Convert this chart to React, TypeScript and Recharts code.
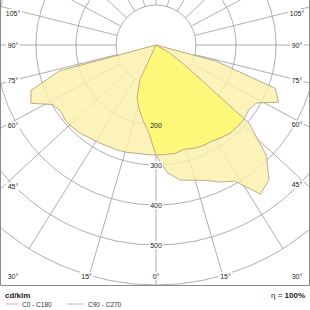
import React from "react";
import { RadarChart, Radar, PolarGrid, PolarAngleAxis, PolarRadiusAxis } from "recharts";

// gamma of one half plane, 5 deg steps (0 = straight down)
const gamma = [0, 5, 10, 15, 20, 25, 30, 35, 40, 45, 50, 55, 60, 65, 70, 75, 80, 85, 90,
  95, 100, 105, 110, 115, 120, 125, 130, 135, 140, 145, 150, 155, 160, 165, 170, 175, 180];

// cd/klm
const c0 = [275, 320, 343, 350, 360, 378, 393, 455, 440, 390, 303, 88, 38, 0, 0, 0, 0, 0, 0,
  0, 0, 0, 0, 0, 0, 0, 0, 0, 0, 0, 0, 0, 0, 0, 0, 0, 0];
const c180 = [275, 218, 190, 165, 138, 95, 0, 0, 0, 0, 0, 0, 0, 0, 0, 0, 0, 0, 0,
  0, 0, 0, 0, 0, 0, 0, 0, 0, 0, 0, 0, 0, 0, 0, 0, 0, 0];
const c90 = [275, 275, 275, 270, 275, 278, 278, 283, 288, 288, 288, 283, 290, 338, 318, 155, 0, 0, 0,
  0, 0, 0, 0, 0, 0, 0, 0, 0, 0, 0, 0, 0, 0, 0, 0, 0, 0];
const c270 = [275, 275, 275, 278, 280, 280, 283, 285, 290, 293, 295, 290, 298, 345, 333, 250, 0, 0, 0,
  0, 0, 0, 0, 0, 0, 0, 0, 0, 0, 0, 0, 0, 0, 0, 0, 0, 0];

const ringTicks = [100, 200, 300, 400, 500, 600];
const ringLabels = [200, 300, 400, 500];
const angleLabels = [0, 15, 30, 45, 60, 75, 90, 105];

// full loop, clockwise from straight down: left half (C180 / C270) then right half (C0 / C90)
const table = Array.from({ length: 72 }, (_, i) => {
  const left = i <= 36;
  const k = left ? i : 72 - i;
  const a = left ? c270[k] : c90[k];
  const b = left ? c180[k] : c0[k];
  return { g: left ? -gamma[k] : gamma[k], c90c270: a, c0c180: b, both: Math.min(a, b) };
});

const CX = 156;
const CY = 45;
const W = 310;
const H = 285;
const STRETCH = 1.08; // spokes of the original are drawn a bit wide

const appAngle = (a: number) => {
  const r = (a * Math.PI) / 180;
  return Math.atan2(STRETCH * Math.sin(r), Math.cos(r));
};
const spokes = Array.from({ length: 24 }, (_, i) => (appAngle(i * 15) * 180) / Math.PI - 90);

const labelPos = (a: number, side: number) => {
  const t = appAngle(a);
  const dx = side * Math.sin(t);
  const dy = Math.cos(t);
  const tx = Math.abs(dx) < 1e-6 ? Infinity : dx > 0 ? (W - CX) / dx : -CX / dx;
  const ty = Math.abs(dy) < 1e-6 ? Infinity : dy > 0 ? (H - CY) / dy : -CY / dy;
  const s = Math.min(tx, ty);
  const x = Math.min(297, Math.max(13, CX + dx * s));
  const y = Math.min(276, Math.max(13, CY + dy * s - (Math.abs(dy) < 1e-6 ? 0 : 3)));
  return { x, y };
};

const FONT = "'Liberation Sans', Arial, sans-serif";

const RingTick = (props: any) => {
  const { x, y, payload } = props;
  const v = payload.value;
  if (!ringLabels.includes(v)) return <g />;
  return (
    <g>
      {v !== 200 && <rect x={x - 7} y={y - 4} width={14} height={8} fill="#fff" />}
      <text x={x} y={y + 2.5} textAnchor="middle" fontSize={7} fill="#222" fontFamily={FONT}>
        {v}
      </text>
    </g>
  );
};

export default function App() {
  const labels: { x: number; y: number; t: string }[] = [];
  angleLabels.forEach((a) => {
    const sides = a === 0 ? [1] : [-1, 1];
    sides.forEach((s) => {
      const p = labelPos(a, s);
      labels.push({ x: p.x, y: p.y, t: `${a}°` });
    });
  });

  return (
    <div style={{ position: "absolute", left: 0, top: 0, width: 310, height: 310, background: "#fff" }}>
      <div style={{ position: "absolute", left: 0, top: 0 }}>
        <RadarChart
          width={310}
          height={286}
          data={table}
          cx={CX}
          cy={CY}
          innerRadius={40}
          outerRadius={240}
          startAngle={-90}
          endAngle={-450}
          margin={{ top: 0, right: 0, bottom: 0, left: 0 }}
        >
          <PolarGrid gridType="circle" polarAngles={spokes} stroke="#9a9a9a" strokeWidth={0.8} />
          <PolarAngleAxis dataKey="g" tick={false} axisLine={false} />
          <Radar dataKey="c90c270" fill="#faf0a7" fillOpacity={0.8} stroke="none" dot={false} isAnimationActive={false} />
          <Radar dataKey="c0c180" fill="#faf0a7" fillOpacity={0.8} stroke="none" dot={false} isAnimationActive={false} />
          <Radar dataKey="both" fill="#fdf77a" fillOpacity={1} stroke="none" dot={false} isAnimationActive={false} />
          <Radar dataKey="c90c270" fill="none" fillOpacity={0} stroke="#b3a07a" strokeWidth={0.9} dot={false} isAnimationActive={false} />
          <Radar dataKey="c0c180" fill="none" fillOpacity={0} stroke="#bf9f86" strokeWidth={0.9} dot={false} isAnimationActive={false} />
          <PolarRadiusAxis
            angle={-90}
            domain={[100, 600]}
            allowDataOverflow
            ticks={ringTicks}
            axisLine={false}
            tickLine={false}
            tick={RingTick}
          />
        </RadarChart>
      </div>
      <svg width={310} height={310} style={{ position: "absolute", left: 0, top: 0 }} fontFamily={FONT}>
        <path d={`M0.5,0 V${H + 0.5} H309.5 V0`} fill="none" stroke="#8a8a8a" strokeWidth={1} />
        {labels.map((l, i) => (
          <g key={i}>
            <rect x={l.x - l.t.length * 2 - 1} y={l.y - 4} width={l.t.length * 4 + 2} height={8} fill="#fff" />
            <text x={l.x} y={l.y + 2.5} textAnchor="middle" fontSize={7} fill="#222">
              {l.t}
            </text>
          </g>
        ))}
        <text x={5} y={298} fontSize={8} fontWeight="bold" fill="#222">cd/klm</text>
        <line x1={6} x2={19} y1={304} y2={304} stroke="#e8aab2" strokeWidth={1} />
        <text x={22} y={306.5} fontSize={6.5} fill="#333">C0 - C180</text>
        <line x1={67} x2={84} y1={304} y2={304} stroke="#b8b8d8" strokeWidth={1} />
        <text x={88} y={306.5} fontSize={6.5} fill="#333">C90 - C270</text>
        <text x={305} y={298} fontSize={8} textAnchor="end" fill="#222">
          <tspan>η = </tspan>
          <tspan fontWeight="bold">100%</tspan>
        </text>
      </svg>
    </div>
  );
}
